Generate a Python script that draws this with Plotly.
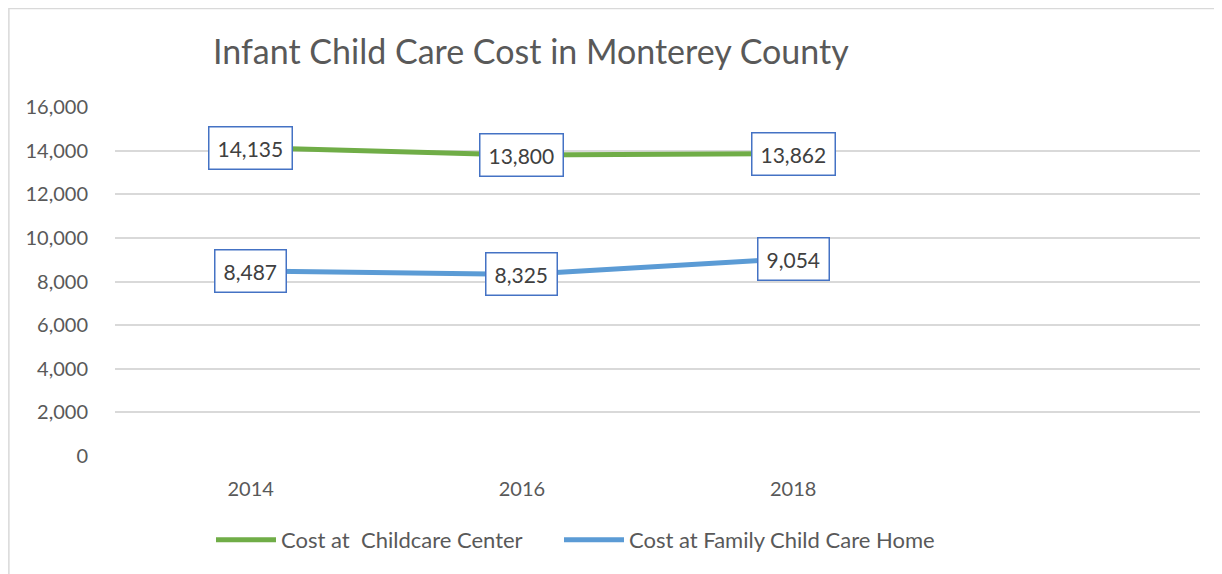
import plotly.graph_objects as go

years = ["2014", "2016", "2018"]
center_cost = [14135, 13800, 13862]
home_cost = [8487, 8325, 9054]
series_names = ["Cost at\u00a0 Childcare Center", "Cost at Family Child Care Home"]

fnt = "Lato, Calibri, Carlito, sans-serif"
grey = "#595959"

W, H = 1214, 566          # page has an 8px body margin
L, R, T, B = 107, 22, 99, 118
pw = W - L - R
ph = H - T - B

fig = go.Figure()
fig.add_trace(go.Scatter(x=years, y=center_cost, name=series_names[0], mode="lines",
                         line=dict(color="#70AD47", width=5), legend="legend"))
fig.add_trace(go.Scatter(x=years, y=home_cost, name=series_names[1], mode="lines",
                         line=dict(color="#5B9BD5", width=5), legend="legend2"))

# boxed data labels (category index used for x)
for vals in (center_cost, home_cost):
    for i, v in enumerate(vals):
        fig.add_annotation(x=i, y=v, text=f"{v:,}", showarrow=False,
                           font=dict(family=fnt, size=21, color="#404040"),
                           bgcolor="white", bordercolor="#4472C4", borderwidth=1.5,
                           borderpad=8)

# outer chart border
fig.add_shape(type="rect", xref="paper", yref="paper",
              x0=-L / pw + 0.0008, x1=1 + (R + 20) / pw, y0=-(B + 20) / ph, y1=1 + T / ph - 0.0015,
              line=dict(color="#D9D9D9", width=1.5), fillcolor="rgba(0,0,0,0)")

leg = dict(orientation="h", xanchor="left", y=-(532 - (H - B)) / ph, yanchor="middle",
           font=dict(family=fnt, size=22, color=grey), itemwidth=60, bgcolor="rgba(0,0,0,0)")

fig.update_layout(
    width=W, height=H,
    margin=dict(l=L, r=R, t=T, b=B),
    paper_bgcolor="white", plot_bgcolor="white",
    title=dict(text="Infant Child Care Cost in Monterey County", x=205 / W, xanchor="left",
               y=1 - 44 / H, yanchor="middle",
               font=dict(family=fnt, size=34, color=grey)),
    font=dict(family=fnt, color=grey, size=20),
    showlegend=True,
    legend=dict(leg, x=(203 - L) / pw),
    legend2=dict(leg, x=(551 - L) / pw),
)
fig.update_xaxes(type="category", range=[-0.5, 3.5], showgrid=False, showline=False,
                 ticks="outside", ticklen=15, tickcolor="white",
                 tickfont=dict(size=20, color=grey))
fig.update_yaxes(range=[0, 16000], dtick=2000, tickformat=",", showgrid=True,
                 gridcolor="#D9D9D9", gridwidth=1.5, zeroline=False, showline=False,
                 ticks="outside", ticklen=22, tickcolor="white",
                 tickfont=dict(size=20, color=grey))

fig.write_html("out.html")
